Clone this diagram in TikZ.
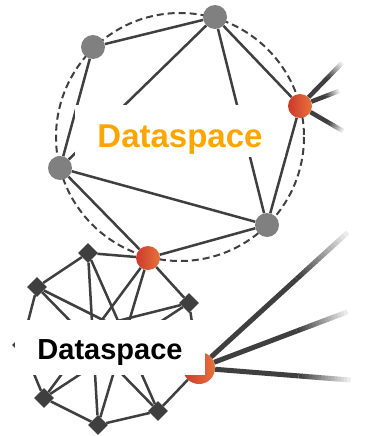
\documentclass[tikz,border=0pt]{standalone}
\usepackage{fontspec}
\newfontfamily\dsfont{Liberation Sans}
\usepackage{tikz}
\usetikzlibrary{shapes.geometric}
\usetikzlibrary{calc}

\definecolor{dk}{RGB}{63,63,63}
\definecolor{nodegray}{RGB}{128,128,128}
\definecolor{redl}{RGB}{204,58,44}
\definecolor{redr}{RGB}{232,114,58}
\definecolor{dsorange}{RGB}{255,165,0}

\begin{document}
\begin{tikzpicture}[x=1pt,y=-1pt,
    gnode/.style={circle,fill=nodegray,minimum size=24pt,inner sep=0pt},
    rnode/.style={circle,left color=redl,right color=redr,minimum size=24pt,inner sep=0pt},
    dnode/.style={diamond,fill=dk,minimum size=20pt,inner sep=0pt},
    lnk/.style={draw=dk,line width=2.5pt},
    ring/.style={draw=dk,line width=2pt,dash pattern=on 7pt off 4pt},
    dsbox/.style={fill=white,inner sep=0pt,font=\dsfont\bfseries}]

    \useasboundingbox (0,0) rectangle (364,436);

    \draw[ring] (180,137) circle (124);

    % upper dataspace
    \node[gnode]   (A)  at (93, 47)   {};
    \node[gnode]   (B)  at (215, 17)  {};
    \node[gnode]   (C)  at (60, 168)  {};
    \node[gnode]   (D)  at (267, 225) {};
    \node[rnode]   (r1) at (300, 106) {};
    \node[rnode]   (r2) at (148, 258) {};

    % lower dataspace
    \node[dnode]   (e1) at (88, 253)  {};
    \node[dnode]   (e2) at (37, 287)  {};
    \node[dnode]   (e3) at (189, 303) {};
    \node[dnode]   (e4) at (44, 398)  {};
    \node[dnode]   (e5) at (98, 425)  {};
    \node[dnode]   (e6) at (158, 411) {};
    \node[dnode]   (e7) at (22, 345)  {};
    \node[rnode,minimum size=32pt] (r3) at (199, 368) {};

    \coordinate (f1) at (342, 63);
    \coordinate (f2) at (339, 91);
    \coordinate (f3) at (343, 131);
    \coordinate (g1) at (347, 233);
    \coordinate (g2) at (347, 312);
    \coordinate (g3) at (350, 380);

    \draw (A) edge[lnk] (B);
    \draw (A) edge[lnk] (C);
    \draw (B) edge[lnk] (C);
    \draw (B) edge[lnk] (D);
    \draw (B) edge[lnk] (r1);
    \draw (r1) edge[lnk] (D);
    \draw (C) edge[lnk] (D);
    \draw (C) edge[lnk] (r2);
    \draw (D) edge[lnk] (r2);

    \draw (e1) edge[lnk] (r2);
    \draw (e1) edge[lnk] (e2);
    \draw (e1) edge[lnk] (e5);
    \draw (e1) edge[lnk] (e6);
    \draw (e2) edge[lnk] (e7);
    \draw (e2) edge[lnk] (e6);
    \draw (e2) edge[lnk] (r3);
    \draw (r2) edge[lnk] (e4);
    \draw (r2) edge[lnk] (e5);
    \draw (r2) edge[lnk] (e3);
    \draw (e3) edge[lnk] (e4);
    \draw (e3) edge[lnk] (e7);
    \draw (e3) edge[lnk] (r3);
    \draw (e4) edge[lnk] (e7);
    \draw (e4) edge[lnk] (e5);
    \draw (e5) edge[lnk] (e6);
    \draw (e6) edge[lnk] (r3);

    % links leaving the dataspaces, fading out
    \foreach \s/\e/\w in {r1/f1/4.5,r1/f2/4.5,r1/f3/4.5,r3/g1/5,r3/g2/5,r3/g3/5} {
        \draw[dk,line width=\w pt] (\s) -- ($(\s.center)!0.66!(\e)$);
        \foreach \i in {0,...,15} {
            \pgfmathtruncatemacro{\p}{100-\i*6}
            \pgfmathsetmacro{\ta}{0.66+0.02125*\i}
            \pgfmathsetmacro{\tb}{0.66+0.02125*(\i+1)+0.004}
            \draw[draw=dk!\p!white,line width=\w pt] ($(\s.center)!\ta!(\e)$) -- ($(\s.center)!\tb!(\e)$);
        }
    }

    \node[dsbox,text=dsorange,minimum width=210pt,minimum height=52pt,text height=38pt,text depth=6pt,
          font=\dsfont\bfseries\fontsize{33}{36}\selectfont] (ds1) at (180,131) {Dataspace};
    \node[dsbox,text=black,minimum width=190pt,minimum height=55pt,text height=30pt,text depth=7pt,
          font=\dsfont\bfseries\fontsize{29}{32}\selectfont] (ds2) at (110,347.5) {Dataspace};
\end{tikzpicture}
\end{document}
